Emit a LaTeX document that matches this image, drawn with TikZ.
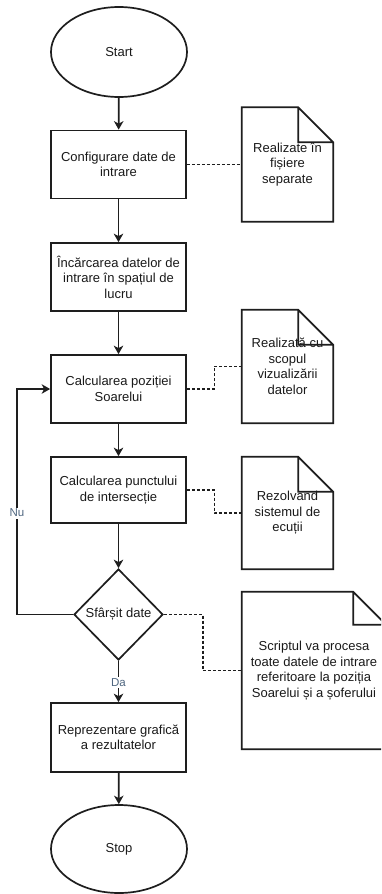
\documentclass[tikz,border=0pt]{standalone}
\usepackage{fontspec}
\setmainfont{Liberation Sans}
\usetikzlibrary{shapes.geometric,arrows.meta,calc,backgrounds}

\definecolor{linec}{HTML}{1E1E1E}
\definecolor{txtc}{HTML}{1A1A1A}
\definecolor{foldgray}{HTML}{EEEEEE}
\definecolor{lblc}{HTML}{4F6680}

\tikzset{
  every node/.style={font=\fontsize{13}{15.5}\selectfont, text=txtc},
  proc/.style={draw=linec, line width=1.7pt, minimum width=135pt, minimum height=68pt,
               inner sep=2pt, align=center, fill=white},
  term/.style={ellipse, draw=linec, line width=1.7pt, minimum width=136pt,
               minimum height=90pt, inner sep=0pt},
  decide/.style={diamond, draw=linec, line width=1.7pt, minimum width=89pt,
                 minimum height=91pt, inner sep=0pt, fill=white},
  notebox/.style={align=center, inner sep=0pt},
  flow/.style={draw=linec, line width=1.7pt, -{Stealth[length=8.5pt,width=9.5pt,inset=2.5pt]}},
  dots/.style={draw=linec, line width=1.6pt, dash pattern=on 3pt off 2pt},
  lbl/.style={fill=white, font=\fontsize{11.5}{13}\selectfont, text=lblc, inner sep=1.5pt},
}

% outline of a note with a folded top-right corner
\newcommand\noteoutline[2]{%
  \begin{scope}[on background layer]
    \fill[white] (#1.north west) -- ($(#1.north east)+(-#2,0)$) -- ($(#1.north east)+(0,#2)$)
      -- (#1.south east) -- (#1.south west) -- cycle;
    \fill[foldgray] ($(#1.north east)+(-#2,0)$) -- ($(#1.north east)+(0,#2)$)
      -- ($(#1.north east)+(-#2,#2)$) -- cycle;
  \end{scope}
  \draw[linec, line width=1.7pt, line join=miter]
    (#1.north west) -- ($(#1.north east)+(-#2,0)$) -- ($(#1.north east)+(0,#2)$)
    -- (#1.south east) -- (#1.south west) -- cycle
    ($(#1.north east)+(-#2,0)$) |- ($(#1.north east)+(0,#2)$);
}

\begin{document}
\begin{tikzpicture}[x=1pt,y=-1pt]
  \useasboundingbox[fill=white] (0,0) rectangle (381,894);
  \clip (0,0) rectangle (381,894);

  % main flow
  \node[term] (start) at (119,52) {Start};
  \node[proc] (b1) at (118.5,164.5) {Configurare date de\\intrare};
  \node[proc] (b2) at (118.5,277) {Încărcarea datelor de\\intrare în spațiul de\\lucru};
  \node[proc] (b3) at (118.5,389) {Calcularea poziției\\Soarelui};
  \node[proc, minimum height=66pt] (b4) at (118.5,490) {Calcularea punctului\\de intersecție};
  \node[decide] (dia) at (118.5,614.5) {Sfârșit date};
  \node[proc, minimum height=69pt] (b5) at (118.5,737.5) {Reprezentare grafică\\a rezultatelor};
  \node[term, minimum height=88pt] (stop) at (119,849) {Stop};

  % side notes
  \node[notebox, minimum width=91pt, minimum height=114pt] (n1) at (287.5,164.5)
    {Realizate în\\fișiere\\separate};
  \noteoutline{n1}{35}
  \node[notebox, minimum width=91pt, minimum height=113pt] (n2) at (287.5,366.5)
    {Realizată cu\\scopul\\vizualizării\\datelor};
  \noteoutline{n2}{35}
  \node[notebox, minimum width=91pt, minimum height=112pt] (n3) at (287.5,513)
    {Rezolvand\\sistemul de\\ecuții};
  \noteoutline{n3}{35}
  \node[notebox, minimum width=144pt, minimum height=157pt] (n4) at (314,670.5)
    {Scriptul va procesa\\toate datele de intrare\\referitoare la poziția\\Soarelui și a șoferului};
  \noteoutline{n4}{33}

  % flow arrows
  \draw[flow] (start) -- (b1);
  \draw[flow] (b1) -- (b2);
  \draw[flow] (b2) -- (b3);
  \draw[flow] (b3) -- (b4);
  \draw[flow] (b4) -- (dia);
  \draw[flow] (dia) -- node[lbl, pos=0.53] (da) {Da} (b5);
  \draw[flow] (b5) -- (stop);

  % loop back when data remain
  \coordinate (loopx) at (17,614.5);
  \draw[flow] (dia.west) -- (loopx) -- node[lbl, pos=0.45] (nu) {Nu} (loopx |- b3.west) -- (b3.west);

  % dotted links to the notes
  \draw[dots] (b1.east) -- (n1.west);
  \coordinate (m2) at ($(b3.east)!0.5!(n2.west)$);
  \draw[dots] (b3.east) -| (m2) |- (n2.west);
  \coordinate (m3) at ($(b4.east)!0.5!(n3.west)$);
  \draw[dots] (b4.east) -| (m3) |- (n3.west);
  \coordinate (m4) at ($(dia.east)!0.5!(n4.west)$);
  \draw[dots] (dia.east) -| (m4) |- (n4.west);
\end{tikzpicture}
\end{document}
